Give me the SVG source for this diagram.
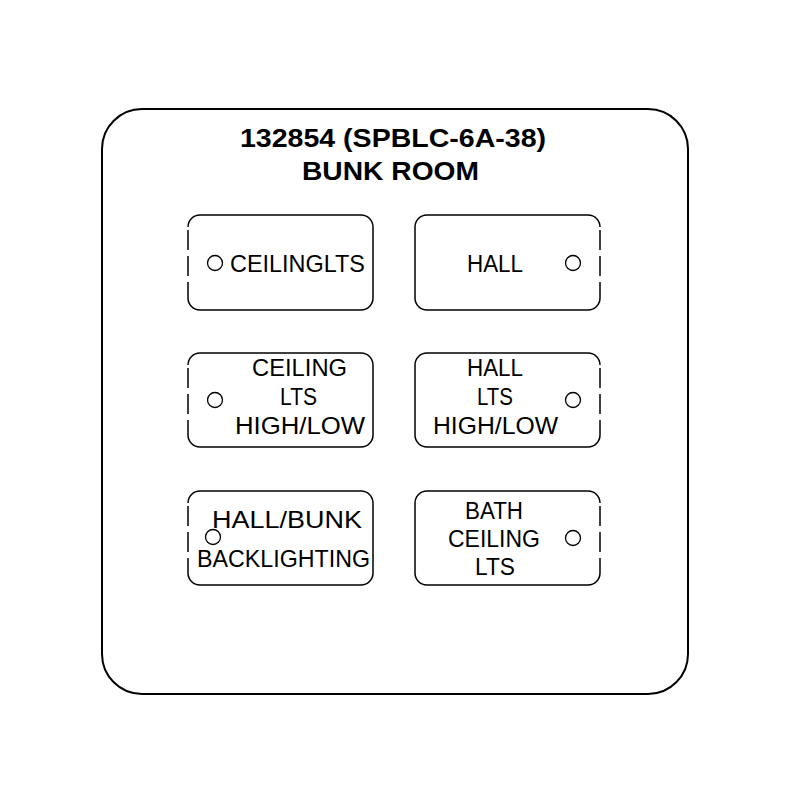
<svg xmlns="http://www.w3.org/2000/svg" width="800" height="800" viewBox="0 0 800 800">
<style>
.plate{fill:#fff;stroke:#000;stroke-width:2}
.box{fill:none;stroke:#000;stroke-width:1.5}
.dash{fill:none;stroke:#000;stroke-width:1.5;stroke-dasharray:20 6}
.ind{fill:#fff;stroke:#000;stroke-width:1.3}
.lbl{font-family:"Liberation Sans",Arial,sans-serif;font-size:24.5px;fill:#000}
.ttl{font-family:"Liberation Sans",Arial,sans-serif;font-size:26px;font-weight:bold;fill:#000}
</style>
<rect width="800" height="800" fill="#fff"/>
<g id="plate">
<rect class="plate" x="102" y="109" width="586" height="585" rx="40" ry="40"/>
<text class="ttl" x="240" y="147" textLength="306" lengthAdjust="spacingAndGlyphs">132854 (SPBLC-6A-38)</text>
<text class="ttl" x="302" y="180" textLength="177" lengthAdjust="spacingAndGlyphs">BUNK ROOM</text>
</g>
<g id="btn-ceilinglts">
<path class="box" d="M188,227 A12,12 0 0 1 200,215 H361 A12,12 0 0 1 373,227 V298 A12,12 0 0 1 361,310 H200 A12,12 0 0 1 188,298"/>
<line class="dash" x1="188" y1="230" x2="188" y2="298"/>
<circle class="ind" cx="215" cy="263" r="7.5"/>
<text class="lbl" x="230" y="272" textLength="135" lengthAdjust="spacingAndGlyphs">CEILINGLTS</text>
</g>
<g id="btn-hall">
<path class="box" d="M600,298 A12,12 0 0 1 588,310 H427 A12,12 0 0 1 415,298 V227 A12,12 0 0 1 427,215 H588 A12,12 0 0 1 600,227"/>
<line class="dash" x1="600" y1="230" x2="600" y2="298"/>
<circle class="ind" cx="573" cy="263" r="7.5"/>
<text class="lbl" x="467" y="272" textLength="56" lengthAdjust="spacingAndGlyphs">HALL</text>
</g>
<g id="btn-ceiling-hl">
<path class="box" d="M188,365 A12,12 0 0 1 200,353 H361 A12,12 0 0 1 373,365 V435 A12,12 0 0 1 361,447 H200 A12,12 0 0 1 188,435"/>
<line class="dash" x1="188" y1="368" x2="188" y2="435"/>
<circle class="ind" cx="215" cy="400" r="7.5"/>
<text class="lbl" x="252" y="376" textLength="95" lengthAdjust="spacingAndGlyphs">CEILING</text>
<text class="lbl" x="280" y="405" textLength="37" lengthAdjust="spacingAndGlyphs">LTS</text>
<text class="lbl" x="235" y="434" textLength="130" lengthAdjust="spacingAndGlyphs">HIGH/LOW</text>
</g>
<g id="btn-hall-hl">
<path class="box" d="M600,435 A12,12 0 0 1 588,447 H427 A12,12 0 0 1 415,435 V365 A12,12 0 0 1 427,353 H588 A12,12 0 0 1 600,365"/>
<line class="dash" x1="600" y1="368" x2="600" y2="435"/>
<circle class="ind" cx="573" cy="400" r="7.5"/>
<text class="lbl" x="467" y="376" textLength="56" lengthAdjust="spacingAndGlyphs">HALL</text>
<text class="lbl" x="477" y="405" textLength="36" lengthAdjust="spacingAndGlyphs">LTS</text>
<text class="lbl" x="433" y="434" textLength="125" lengthAdjust="spacingAndGlyphs">HIGH/LOW</text>
</g>
<g id="btn-backlighting">
<path class="box" d="M188,503 A12,12 0 0 1 200,491 H361 A12,12 0 0 1 373,503 V573 A12,12 0 0 1 361,585 H200 A12,12 0 0 1 188,573"/>
<line class="dash" x1="188" y1="506" x2="188" y2="573"/>
<circle class="ind" cx="213" cy="537" r="7.5"/>
<text class="lbl" x="212" y="528" textLength="150" lengthAdjust="spacingAndGlyphs">HALL/BUNK</text>
<text class="lbl" x="197" y="567" textLength="173" lengthAdjust="spacingAndGlyphs">BACKLIGHTING</text>
</g>
<g id="btn-bath">
<path class="box" d="M600,573 A12,12 0 0 1 588,585 H427 A12,12 0 0 1 415,573 V503 A12,12 0 0 1 427,491 H588 A12,12 0 0 1 600,503"/>
<line class="dash" x1="600" y1="506" x2="600" y2="573"/>
<circle class="ind" cx="573" cy="538" r="7.5"/>
<text class="lbl" x="465" y="519" textLength="58" lengthAdjust="spacingAndGlyphs">BATH</text>
<text class="lbl" x="448" y="547" textLength="92" lengthAdjust="spacingAndGlyphs">CEILING</text>
<text class="lbl" x="475" y="575" textLength="40" lengthAdjust="spacingAndGlyphs">LTS</text>
</g>
<g id="connectors"/>
</svg>
